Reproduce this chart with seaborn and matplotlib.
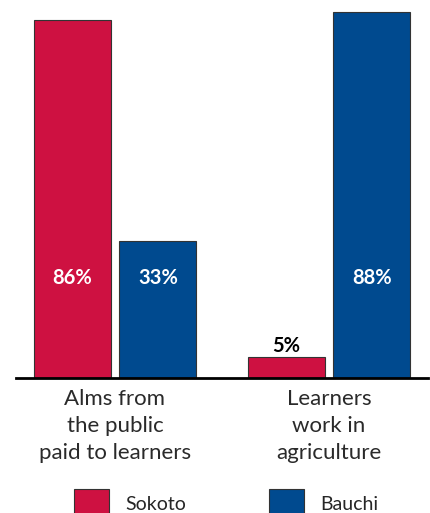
import pandas as pd
import matplotlib.pyplot as plt
import seaborn as sns

# data
categories = ["Alms from\nthe public\npaid to learners", "Learners\nwork in\nagriculture"]
states = ["Sokoto", "Bauchi"]
sokoto_vals = [86, 5]
bauchi_vals = [33, 88]
colors = {"Sokoto": "#CE1141", "Bauchi": "#004A8F"}


def main():
    df = pd.DataFrame({
        "category": categories * 2,
        "state": ["Sokoto"] * len(categories) + ["Bauchi"] * len(categories),
        "value": sokoto_vals + bauchi_vals,
    })

    sns.set_style("white")
    plt.rcParams['font.family'] = ['Lato', 'DejaVu Sans']

    fig = plt.figure(figsize=(4.3, 5.13), dpi=100)
    ax = fig.add_axes([16 / 430, 1 - 378 / 513, 412 / 430, 378 / 513])

    sns.barplot(data=df, x="category", y="value", hue="state", hue_order=states,
                palette=colors, saturation=1, width=0.8, gap=0.1,
                edgecolor="#333333", linewidth=0.8, ax=ax)

    ax.set_xlim(-0.4626, 1.4626)
    ax.set_ylim(0, 90.9)
    ax.set_xlabel("")
    ax.set_ylabel("")
    ax.set_yticks([])
    ax.tick_params(axis="x", length=0, pad=8)
    for lbl in ax.get_xticklabels():
        lbl.set_fontsize(16)
        lbl.set_linespacing(1.42)
        lbl.set_color("#2a2a2a")
    for side in ["top", "right", "left"]:
        ax.spines[side].set_visible(False)
    ax.spines["bottom"].set_color("black")
    ax.spines["bottom"].set_linewidth(2)

    # value labels
    for container, vals in zip(ax.containers, [sokoto_vals, bauchi_vals]):
        for bar, v in zip(container, vals):
            cx = bar.get_x() + bar.get_width() / 2
            if v >= 10:
                ax.text(cx, 24, f"{v}%", ha="center", va="center", color="white",
                        fontsize=14.5, fontweight="bold")
            else:
                ax.annotate(f"{v}%", (cx, bar.get_height()), xytext=(0, 1),
                            textcoords="offset points", ha="center", va="bottom",
                            color="black", fontsize=14.5, fontweight="bold")

    handles, labels = ax.get_legend_handles_labels()
    ax.get_legend().remove()
    fig.legend(handles, labels, loc="upper left", bbox_to_anchor=(0.155, 0.062),
               ncol=2, frameon=False, fontsize=14, handlelength=1.8,
               handleheight=1.9, handletextpad=0.8, columnspacing=4.3,
               borderaxespad=0)

    plt.savefig("out.png", dpi=100)
    plt.close()


if __name__ == "__main__":
    main()
